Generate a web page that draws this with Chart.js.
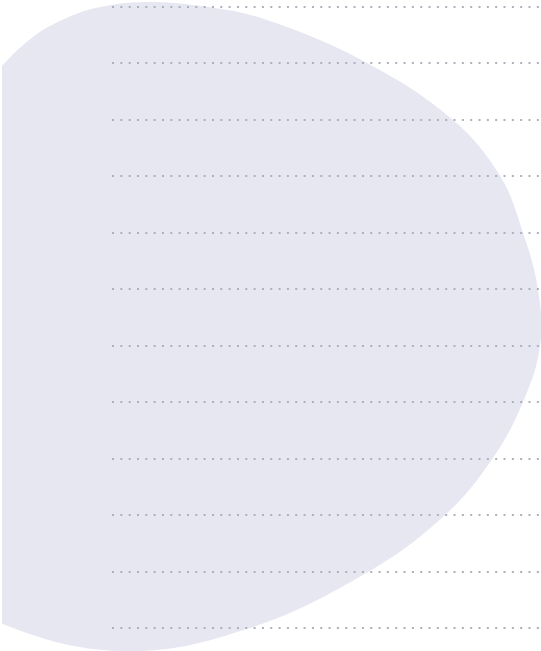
<!DOCTYPE html>
<html>
<head>
<meta charset="utf-8">
<script src="https://cdn.jsdelivr.net/npm/chart.js@4"></script>
<style>
  html, body { margin: 0; padding: 0; background: #ffffff; }
  #wrap { position: relative; width: 541px; height: 651px; overflow: hidden; }
  #wrap canvas { position: absolute; left: 0; top: 0; }
</style>
</head>
<body>
<div id="wrap">
  <canvas id="blobChart" width="541" height="651"></canvas>
  <canvas id="gridChart" width="541" height="651"></canvas>
</div>
<script>
// outline of the background shape (x in axis units, y in grid steps), closed loop
const blobX = [-172, -112, -79, -45, -12, 33, 88, 155, 255, 341, 388, 411, 426, 428,
  411, 380, 333, 256, 138, 13, -112, -192, -232, -172];
const blobY = [8.73, 9.92, 10.47, 10.81, 11.00, 11.09, 11.02, 10.77, 10.01, 9.00, 8.01, 7.00, 6.00, 5.00,
  4.00, 2.99, 2.00, 0.99, 0.00, -0.41, 0.09, 1.03, 4.92, 8.73];

// dotted guide lines
const gridTicks = [0, 1, 2, 3, 4, 5, 6, 7, 8, 9, 10, 11];

const padLeft = 112, padTop = 7, padBottom = 23;
const plotH = 651 - padTop - padBottom;
const step = plotH / (gridTicks.length - 1);

const blobPoints = blobX.map((x, i) => ({ x: x, y: blobY[i] }));

// background shape, full canvas area
new Chart(document.getElementById('blobChart'), {
  type: 'scatter',
  data: {
    datasets: [{
      data: blobPoints,
      showLine: true,
      fill: 'shape',
      backgroundColor: '#e7e7f2',
      borderWidth: 0,
      borderColor: 'rgba(0,0,0,0)',
      pointRadius: 0,
      tension: 0.38
    }]
  },
  options: {
    responsive: false,
    animation: false,
    elements: { line: { capBezierPoints: false } },
    layout: { padding: { left: 2, top: 0, right: 0, bottom: 0 } },
    plugins: { legend: { display: false }, tooltip: { enabled: false } },
    scales: {
      x: { type: 'linear', display: false, min: -(padLeft - 2), max: 541 - padLeft },
      y: { type: 'linear', display: false, min: -padBottom / step, max: gridTicks[gridTicks.length - 1] + padTop / step }
    }
  }
});

// dotted grid on top
new Chart(document.getElementById('gridChart'), {
  type: 'scatter',
  data: { datasets: [] },
  options: {
    responsive: false,
    animation: false,
    layout: { padding: { left: padLeft, top: padTop, right: 0, bottom: padBottom } },
    plugins: { legend: { display: false }, tooltip: { enabled: false } },
    scales: {
      x: { type: 'linear', display: false, min: 0, max: 541 - padLeft },
      y: {
        type: 'linear',
        min: gridTicks[0],
        max: gridTicks[gridTicks.length - 1],
        afterBuildTicks: (axis) => { axis.ticks = gridTicks.map(v => ({ value: v })); },
        ticks: { display: false },
        border: { display: false, dash: [2, 6.33] },
        grid: {
          drawTicks: false,
          color: '#adb1bb',
          lineWidth: 2
        }
      }
    }
  }
});
</script>
</body>
</html>
